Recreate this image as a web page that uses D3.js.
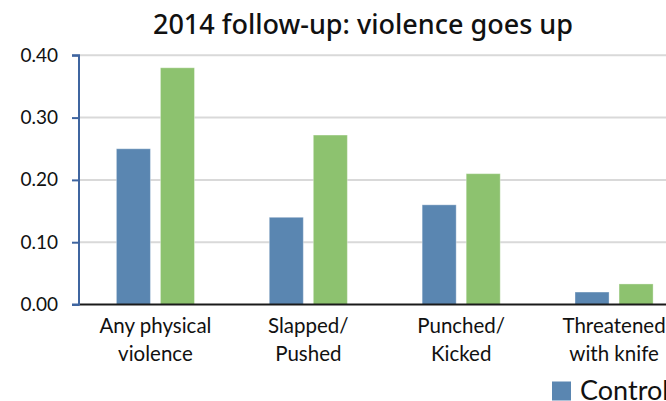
<!DOCTYPE html>
<html>
<head>
<meta charset="utf-8">
<script src="https://cdn.jsdelivr.net/npm/d3@7"></script>
<style>
  html, body { margin: 0; padding: 0; background: #fff; overflow: hidden; }
  svg { display: block; }
</style>
</head>
<body>
<svg id="chart" width="666" height="401"></svg>
<script>
// Share of respondents reporting each kind of violence, 2014 follow-up
const categories = [["Any physical", "violence"], ["Slapped/", "Pushed"], ["Punched/", "Kicked"], ["Threatened", "with knife"]];
const seriesNames = ["Control", "Treatment"];
const controlValues = [0.25, 0.14, 0.16, 0.02];
const treatmentValues = [0.38, 0.272, 0.21, 0.033];
const yTicks = [0, 0.1, 0.2, 0.3, 0.4];
const titleText = "2014 follow-up: violence goes up";

const colors = ["#5a86b1", "#8dc26f"];
const seriesValues = [controlValues, treatmentValues];

const W = 666;
const svg = d3.select("#chart");
const plot = { left: 79, top: 55.3, bottom: 304.5, right: 690.5 };

const x = d3.scaleBand()
  .domain(d3.range(categories.length))
  .range([plot.left, plot.right])
  .paddingInner(0).paddingOuter(0);

const xs = d3.scaleBand()
  .domain(d3.range(seriesNames.length))
  .range([0, x.bandwidth()])
  .paddingInner(0.227).paddingOuter(0.849);

const y = d3.scaleLinear().domain([0, 0.4]).range([plot.bottom, plot.top]);

// Title
svg.append("text")
  .attr("x", 363).attr("y", 34)
  .attr("text-anchor", "middle")
  .attr("font-family", "'Noto Sans', sans-serif")
  .attr("font-weight", 500)
  .attr("font-size", 27)
  .attr("fill", "#111")
  .text(titleText);

// Horizontal gridlines
svg.append("g")
  .selectAll("line")
  .data(yTicks.filter(d => d > 0))
  .join("line")
  .attr("x1", plot.left).attr("x2", W)
  .attr("y1", d => y(d)).attr("y2", d => y(d))
  .attr("stroke", "#d9d9d9").attr("stroke-width", 2);

// Bars
const groups = svg.append("g")
  .selectAll("g")
  .data(categories.map((c, i) => i))
  .join("g")
  .attr("transform", i => `translate(${x(i)},0)`);

groups.selectAll("rect")
  .data(i => seriesValues.map((vals, s) => ({ s, v: vals[i] })))
  .join("rect")
  .attr("x", d => xs(d.s))
  .attr("width", xs.bandwidth())
  .attr("y", d => y(d.v))
  .attr("height", d => y(0) - y(d.v))
  .attr("fill", d => colors[d.s])
  .attr("stroke", "rgba(255,255,255,0.35)")
  .attr("stroke-width", 1);

// Baseline
svg.append("line")
  .attr("x1", plot.left).attr("x2", W)
  .attr("y1", y(0)).attr("y2", y(0))
  .attr("stroke", "#1a1a1a").attr("stroke-width", 2);

// Y axis
const yAxis = d3.axisLeft(y)
  .tickValues(yTicks)
  .tickFormat(d3.format(".2f"))
  .tickSize(7)
  .tickPadding(14);

const yg = svg.append("g")
  .attr("transform", `translate(${plot.left},0)`)
  .call(yAxis);
yg.select(".domain").attr("stroke", "#3f65a0").attr("stroke-width", 2)
  .attr("d", `M-7,${y(0.4)}H0V${y(0)}H-7`);
yg.selectAll(".tick line").attr("stroke", "#3f65a0").attr("stroke-width", 2);
yg.selectAll(".tick text")
  .attr("font-family", "Lato, sans-serif")
  .attr("font-size", 19)
  .attr("fill", "#111");

// Category labels
const catLabels = svg.append("g")
  .selectAll("text")
  .data(categories.map((c, i) => ({ c, i })))
  .join("text")
  .attr("text-anchor", "middle")
  .attr("font-family", "Lato, sans-serif")
  .attr("font-size", 20.5)
  .attr("fill", "#111");
catLabels.selectAll("tspan")
  .data(d => d.c.map((line, k) => ({ line, k, i: d.i })))
  .join("tspan")
  .attr("x", d => x(d.i) + x.bandwidth() / 2)
  .attr("y", d => 333 + d.k * 27.5)
  .text(d => d.line);

// Legend: entries laid out left to right; only those starting inside the canvas are drawn
const legendItems = seriesNames
  .map((n, s) => ({ n, s, x: 552 + s * 150 }))
  .filter(d => d.x < W);
const legend = svg.append("g")
  .selectAll("g")
  .data(legendItems)
  .join("g")
  .attr("transform", d => `translate(${d.x},381.5)`);
legend.append("rect")
  .attr("width", 19).attr("height", 19)
  .attr("fill", d => colors[d.s]);
legend.append("text")
  .attr("x", 28).attr("y", 18)
  .attr("font-family", "Lato, sans-serif")
  .attr("font-size", 27)
  .attr("fill", "#111")
  .text(d => d.n);
</script>
</body>
</html>
